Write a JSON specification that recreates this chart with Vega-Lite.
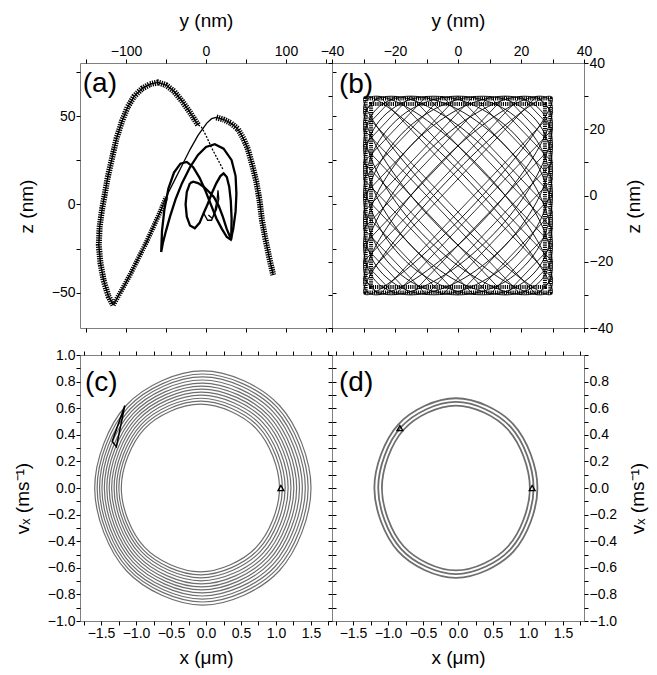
{
"$schema":"https://vega.github.io/schema/vega-lite/v6.json",
"padding":{"left":12,"top":10,"right":10,"bottom":8},
"config":{"font":"Liberation Sans","view":{"stroke":"#7f7f7f","strokeWidth":1},
"axis":{"grid":false,"domain":false,"tickColor":"#000","tickSize":4,"tickWidth":1,"labelFontSize":14,"labelColor":"#000","titleFontSize":19,"titleFontWeight":"normal","titleColor":"#000","labelPadding":1,"labelFont":"Liberation Sans","titleFont":"Liberation Sans","labelFlush":false,"labelOverlap":false}},
"datasets":{
"a_path":[
{"p":"thin","i":0,"y":21,"z":20},{"p":"thin","i":1,"y":14,"z":26},{"p":"thin","i":2,"y":7,"z":32},{"p":"thin","i":3,"y":0,"z":39},{"p":"thin","i":4,"y":-6,"z":44},{"p":"thin","i":5,"y":-10,"z":45},
{"p":"outer","i":0,"y":-10,"z":45},{"p":"outer","i":1,"y":-20,"z":52},{"p":"outer","i":2,"y":-30,"z":58.5},{"p":"outer","i":3,"y":-40,"z":64},{"p":"outer","i":4,"y":-50,"z":67.5},{"p":"outer","i":5,"y":-60,"z":69},{"p":"outer","i":6,"y":-70,"z":68},{"p":"outer","i":7,"y":-80,"z":65.5},{"p":"outer","i":8,"y":-90,"z":61},{"p":"outer","i":9,"y":-98,"z":55},{"p":"outer","i":10,"y":-105,"z":47},{"p":"outer","i":11,"y":-112,"z":37},{"p":"outer","i":12,"y":-118,"z":25},{"p":"outer","i":13,"y":-123,"z":15},{"p":"outer","i":14,"y":-126,"z":7},{"p":"outer","i":15,"y":-130,"z":-3},{"p":"outer","i":16,"y":-133,"z":-13},{"p":"outer","i":17,"y":-134,"z":-23},{"p":"outer","i":18,"y":-132,"z":-33},{"p":"outer","i":19,"y":-128,"z":-43},{"p":"outer","i":20,"y":-122,"z":-52},{"p":"outer","i":21,"y":-116,"z":-57},
{"p":"rise1","i":0,"y":-116,"z":-57},{"p":"rise1","i":1,"y":-106,"z":-49},{"p":"rise1","i":2,"y":-95,"z":-40},{"p":"rise1","i":3,"y":-84,"z":-30},{"p":"rise1","i":4,"y":-74,"z":-21},{"p":"rise1","i":5,"y":-65,"z":-12},{"p":"rise1","i":6,"y":-57,"z":-4},{"p":"rise1","i":7,"y":-50,"z":4},
{"p":"rise2","i":0,"y":-50,"z":4},{"p":"rise2","i":1,"y":-40,"z":13},{"p":"rise2","i":2,"y":-30,"z":22},{"p":"rise2","i":3,"y":-20,"z":31},{"p":"rise2","i":4,"y":-10,"z":39},{"p":"rise2","i":5,"y":1,"z":46},{"p":"rise2","i":6,"y":7,"z":48.5},{"p":"rise2","i":7,"y":13,"z":49.2},
{"p":"desc","i":0,"y":13,"z":49.2},{"p":"desc","i":1,"y":22,"z":48},{"p":"desc","i":2,"y":31,"z":46},{"p":"desc","i":3,"y":40,"z":42.6},{"p":"desc","i":4,"y":47,"z":37},{"p":"desc","i":5,"y":52.5,"z":31},{"p":"desc","i":6,"y":58,"z":22},{"p":"desc","i":7,"y":63,"z":12.5},{"p":"desc","i":8,"y":67,"z":2},{"p":"desc","i":9,"y":70,"z":-9},{"p":"desc","i":10,"y":74,"z":-19},{"p":"desc","i":11,"y":79,"z":-30},{"p":"desc","i":12,"y":84,"z":-40},
{"p":"P","i":0,"y":-56,"z":-27},{"p":"P","i":1,"y":-55,"z":-15},{"p":"P","i":2,"y":-52,"z":-3},{"p":"P","i":3,"y":-47,"z":9},{"p":"P","i":4,"y":-40,"z":18},{"p":"P","i":5,"y":-32,"z":23},{"p":"P","i":6,"y":-24,"z":24},{"p":"P","i":7,"y":-16,"z":21},{"p":"P","i":8,"y":-8,"z":15},{"p":"P","i":9,"y":-1,"z":8},{"p":"P","i":10,"y":6,"z":0},{"p":"P","i":11,"y":13,"z":-8},{"p":"P","i":12,"y":20,"z":-14},{"p":"P","i":13,"y":26,"z":-18.5},{"p":"P","i":14,"y":31,"z":-20},{"p":"P","i":15,"y":34,"z":-14},{"p":"P","i":16,"y":37,"z":-4},{"p":"P","i":17,"y":38,"z":6},{"p":"P","i":18,"y":37,"z":16},{"p":"P","i":19,"y":32,"z":25},{"p":"P","i":20,"y":22,"z":31.5},{"p":"P","i":21,"y":11,"z":34},{"p":"P","i":22,"y":0,"z":32.5},{"p":"P","i":23,"y":-10,"z":28},{"p":"P","i":24,"y":-20,"z":21},{"p":"P","i":25,"y":-30,"z":12},{"p":"P","i":26,"y":-38,"z":3},{"p":"P","i":27,"y":-45,"z":-7},{"p":"P","i":28,"y":-50,"z":-15},{"p":"P","i":29,"y":-54,"z":-22},{"p":"P","i":30,"y":-56,"z":-27},
{"p":"F","i":0,"y":-20,"z":12},{"p":"F","i":1,"y":-24,"z":7},{"p":"F","i":2,"y":-25.5,"z":0},{"p":"F","i":3,"y":-24,"z":-7},{"p":"F","i":4,"y":-20,"z":-12},{"p":"F","i":5,"y":-14,"z":-13.5},{"p":"F","i":6,"y":-8,"z":-10.5},{"p":"F","i":7,"y":-3,"z":-5},{"p":"F","i":8,"y":2,"z":0},{"p":"F","i":9,"y":7,"z":6},{"p":"F","i":10,"y":13,"z":12},{"p":"F","i":11,"y":18,"z":16},{"p":"F","i":12,"y":22,"z":17.5},{"p":"F","i":13,"y":26,"z":15.5},{"p":"F","i":14,"y":29,"z":10},{"p":"F","i":15,"y":31,"z":2},{"p":"F","i":16,"y":32,"z":-8},{"p":"F","i":17,"y":31.5,"z":-20},{"p":"F","i":18,"y":26,"z":-14},{"p":"F","i":19,"y":21,"z":-7},{"p":"F","i":20,"y":16,"z":-1},{"p":"F","i":21,"y":10,"z":4},{"p":"F","i":22,"y":4,"z":7},{"p":"F","i":23,"y":-3,"z":10},{"p":"F","i":24,"y":-10,"z":12},{"p":"F","i":25,"y":-16,"z":12.8},{"p":"F","i":26,"y":-20,"z":12},
{"p":"T","i":0,"y":-3,"z":-5},{"p":"T","i":1,"y":2,"z":-9},{"p":"T","i":2,"y":7,"z":-9},{"p":"T","i":3,"y":11,"z":-4},{"p":"T","i":4,"y":14,"z":3},{"p":"T","i":5,"y":15,"z":8},{"p":"T","i":6,"y":16,"z":3},{"p":"T","i":7,"y":13,"z":-3},{"p":"T","i":8,"y":8,"z":-8},{"p":"T","i":9,"y":3,"z":-6}
],
"b_rects":[
{"r":-25,"i":0,"y":-30,"z":-25},{"r":-25,"i":1,"y":25,"z":30},{"r":-25,"i":2,"y":30,"z":25},{"r":-25,"i":3,"y":-25,"z":-30},
{"r":-20,"i":0,"y":-30,"z":-20},{"r":-20,"i":1,"y":20,"z":30},{"r":-20,"i":2,"y":30,"z":20},{"r":-20,"i":3,"y":-20,"z":-30},
{"r":-15,"i":0,"y":-30,"z":-15},{"r":-15,"i":1,"y":15,"z":30},{"r":-15,"i":2,"y":30,"z":15},{"r":-15,"i":3,"y":-15,"z":-30},
{"r":-10,"i":0,"y":-30,"z":-10},{"r":-10,"i":1,"y":10,"z":30},{"r":-10,"i":2,"y":30,"z":10},{"r":-10,"i":3,"y":-10,"z":-30},
{"r":-5,"i":0,"y":-30,"z":-5},{"r":-5,"i":1,"y":5,"z":30},{"r":-5,"i":2,"y":30,"z":5},{"r":-5,"i":3,"y":-5,"z":-30},
{"r":0,"i":0,"y":-30,"z":0},{"r":0,"i":1,"y":0,"z":30},{"r":0,"i":2,"y":30,"z":0},{"r":0,"i":3,"y":0,"z":-30},
{"r":5,"i":0,"y":-30,"z":5},{"r":5,"i":1,"y":-5,"z":30},{"r":5,"i":2,"y":30,"z":-5},{"r":5,"i":3,"y":5,"z":-30},
{"r":10,"i":0,"y":-30,"z":10},{"r":10,"i":1,"y":-10,"z":30},{"r":10,"i":2,"y":30,"z":-10},{"r":10,"i":3,"y":10,"z":-30},
{"r":15,"i":0,"y":-30,"z":15},{"r":15,"i":1,"y":-15,"z":30},{"r":15,"i":2,"y":30,"z":-15},{"r":15,"i":3,"y":15,"z":-30},
{"r":20,"i":0,"y":-30,"z":20},{"r":20,"i":1,"y":-20,"z":30},{"r":20,"i":2,"y":30,"z":-20},{"r":20,"i":3,"y":20,"z":-30},
{"r":25,"i":0,"y":-30,"z":25},{"r":25,"i":1,"y":-25,"z":30},{"r":25,"i":2,"y":30,"z":-25},{"r":25,"i":3,"y":25,"z":-30}
],
"b_ell":[
{"e":15,"i":0,"y":0,"z":7.76},{"e":15,"i":1,"y":15,"z":21.2},{"e":15,"i":2,"y":26,"z":29},{"e":15,"i":3,"y":30,"z":29},{"e":15,"i":4,"y":26,"z":21.2},{"e":15,"i":5,"y":15,"z":7.76},{"e":15,"i":6,"y":0,"z":-7.76},{"e":15,"i":7,"y":-15,"z":-21.2},{"e":15,"i":8,"y":-26,"z":-29},{"e":15,"i":9,"y":-30,"z":-29},{"e":15,"i":10,"y":-26,"z":-21.2},{"e":15,"i":11,"y":-15,"z":-7.76},
{"e":30,"i":0,"y":0,"z":15},{"e":30,"i":1,"y":15,"z":26},{"e":30,"i":2,"y":26,"z":30},{"e":30,"i":3,"y":30,"z":26},{"e":30,"i":4,"y":26,"z":15},{"e":30,"i":5,"y":15,"z":0},{"e":30,"i":6,"y":0,"z":-15},{"e":30,"i":7,"y":-15,"z":-26},{"e":30,"i":8,"y":-26,"z":-30},{"e":30,"i":9,"y":-30,"z":-26},{"e":30,"i":10,"y":-26,"z":-15},{"e":30,"i":11,"y":-15,"z":0},
{"e":45,"i":0,"y":0,"z":21.2},{"e":45,"i":1,"y":15,"z":29},{"e":45,"i":2,"y":26,"z":29},{"e":45,"i":3,"y":30,"z":21.2},{"e":45,"i":4,"y":26,"z":7.76},{"e":45,"i":5,"y":15,"z":-7.76},{"e":45,"i":6,"y":0,"z":-21.2},{"e":45,"i":7,"y":-15,"z":-29},{"e":45,"i":8,"y":-26,"z":-29},{"e":45,"i":9,"y":-30,"z":-21.2},{"e":45,"i":10,"y":-26,"z":-7.76},{"e":45,"i":11,"y":-15,"z":7.76},
{"e":60,"i":0,"y":0,"z":26},{"e":60,"i":1,"y":15,"z":30},{"e":60,"i":2,"y":26,"z":26},{"e":60,"i":3,"y":30,"z":15},{"e":60,"i":4,"y":26,"z":0},{"e":60,"i":5,"y":15,"z":-15},{"e":60,"i":6,"y":0,"z":-26},{"e":60,"i":7,"y":-15,"z":-30},{"e":60,"i":8,"y":-26,"z":-26},{"e":60,"i":9,"y":-30,"z":-15},{"e":60,"i":10,"y":-26,"z":0},{"e":60,"i":11,"y":-15,"z":15},
{"e":75,"i":0,"y":0,"z":29},{"e":75,"i":1,"y":15,"z":29},{"e":75,"i":2,"y":26,"z":21.2},{"e":75,"i":3,"y":30,"z":7.76},{"e":75,"i":4,"y":26,"z":-7.76},{"e":75,"i":5,"y":15,"z":-21.2},{"e":75,"i":6,"y":0,"z":-29},{"e":75,"i":7,"y":-15,"z":-29},{"e":75,"i":8,"y":-26,"z":-21.2},{"e":75,"i":9,"y":-30,"z":-7.76},{"e":75,"i":10,"y":-26,"z":7.76},{"e":75,"i":11,"y":-15,"z":21.2},
{"e":90,"i":0,"y":0,"z":30},{"e":90,"i":1,"y":15,"z":26},{"e":90,"i":2,"y":26,"z":15},{"e":90,"i":3,"y":30,"z":0},{"e":90,"i":4,"y":26,"z":-15},{"e":90,"i":5,"y":15,"z":-26},{"e":90,"i":6,"y":0,"z":-30},{"e":90,"i":7,"y":-15,"z":-26},{"e":90,"i":8,"y":-26,"z":-15},{"e":90,"i":9,"y":-30,"z":0},{"e":90,"i":10,"y":-26,"z":15},{"e":90,"i":11,"y":-15,"z":26},
{"e":105,"i":0,"y":0,"z":29},{"e":105,"i":1,"y":15,"z":21.2},{"e":105,"i":2,"y":26,"z":7.76},{"e":105,"i":3,"y":30,"z":-7.76},{"e":105,"i":4,"y":26,"z":-21.2},{"e":105,"i":5,"y":15,"z":-29},{"e":105,"i":6,"y":0,"z":-29},{"e":105,"i":7,"y":-15,"z":-21.2},{"e":105,"i":8,"y":-26,"z":-7.76},{"e":105,"i":9,"y":-30,"z":7.76},{"e":105,"i":10,"y":-26,"z":21.2},{"e":105,"i":11,"y":-15,"z":29},
{"e":120,"i":0,"y":0,"z":26},{"e":120,"i":1,"y":15,"z":15},{"e":120,"i":2,"y":26,"z":0},{"e":120,"i":3,"y":30,"z":-15},{"e":120,"i":4,"y":26,"z":-26},{"e":120,"i":5,"y":15,"z":-30},{"e":120,"i":6,"y":0,"z":-26},{"e":120,"i":7,"y":-15,"z":-15},{"e":120,"i":8,"y":-26,"z":0},{"e":120,"i":9,"y":-30,"z":15},{"e":120,"i":10,"y":-26,"z":26},{"e":120,"i":11,"y":-15,"z":30},
{"e":135,"i":0,"y":0,"z":21.2},{"e":135,"i":1,"y":15,"z":7.76},{"e":135,"i":2,"y":26,"z":-7.76},{"e":135,"i":3,"y":30,"z":-21.2},{"e":135,"i":4,"y":26,"z":-29},{"e":135,"i":5,"y":15,"z":-29},{"e":135,"i":6,"y":0,"z":-21.2},{"e":135,"i":7,"y":-15,"z":-7.76},{"e":135,"i":8,"y":-26,"z":7.76},{"e":135,"i":9,"y":-30,"z":21.2},{"e":135,"i":10,"y":-26,"z":29},{"e":135,"i":11,"y":-15,"z":29},
{"e":150,"i":0,"y":0,"z":15},{"e":150,"i":1,"y":15,"z":0},{"e":150,"i":2,"y":26,"z":-15},{"e":150,"i":3,"y":30,"z":-26},{"e":150,"i":4,"y":26,"z":-30},{"e":150,"i":5,"y":15,"z":-26},{"e":150,"i":6,"y":0,"z":-15},{"e":150,"i":7,"y":-15,"z":0},{"e":150,"i":8,"y":-26,"z":15},{"e":150,"i":9,"y":-30,"z":26},{"e":150,"i":10,"y":-26,"z":30},{"e":150,"i":11,"y":-15,"z":26},
{"e":165,"i":0,"y":0,"z":7.76},{"e":165,"i":1,"y":15,"z":-7.76},{"e":165,"i":2,"y":26,"z":-21.2},{"e":165,"i":3,"y":30,"z":-29},{"e":165,"i":4,"y":26,"z":-29},{"e":165,"i":5,"y":15,"z":-21.2},{"e":165,"i":6,"y":0,"z":-7.76},{"e":165,"i":7,"y":-15,"z":7.76},{"e":165,"i":8,"y":-26,"z":21.2},{"e":165,"i":9,"y":-30,"z":29},{"e":165,"i":10,"y":-26,"z":29},{"e":165,"i":11,"y":-15,"z":21.2}
],
"b_frame":[
{"f":1,"i":0,"y":-29.3,"z":-29.3},{"f":1,"i":1,"y":-29.3,"z":29.3},{"f":1,"i":2,"y":29.3,"z":29.3},{"f":1,"i":3,"y":29.3,"z":-29.3},
{"f":2,"i":0,"y":-27.6,"z":-27.6},{"f":2,"i":1,"y":-27.6,"z":27.6},{"f":2,"i":2,"y":27.6,"z":27.6},{"f":2,"i":3,"y":27.6,"z":-27.6}
],
"c_rings":[
{"r":0,"i":0,"x":1.050,"v":0},{"r":0,"i":1,"x":0.719,"v":0.445},{"r":0,"i":2,"x":-0.080,"v":0.630},{"r":0,"i":3,"x":-0.879,"v":0.445},{"r":0,"i":4,"x":-1.210,"v":0},{"r":0,"i":5,"x":-0.879,"v":-0.445},{"r":0,"i":6,"x":-0.080,"v":-0.630},{"r":0,"i":7,"x":0.719,"v":-0.445},
{"r":1,"i":0,"x":1.091,"v":0},{"r":1,"i":1,"x":0.749,"v":0.462},{"r":1,"i":2,"x":-0.077,"v":0.653},{"r":1,"i":3,"x":-0.903,"v":0.462},{"r":1,"i":4,"x":-1.245,"v":0},{"r":1,"i":5,"x":-0.903,"v":-0.462},{"r":1,"i":6,"x":-0.077,"v":-0.653},{"r":1,"i":7,"x":0.749,"v":-0.462},
{"r":2,"i":0,"x":1.131,"v":0},{"r":2,"i":1,"x":0.778,"v":0.477},{"r":2,"i":2,"x":-0.074,"v":0.675},{"r":2,"i":3,"x":-0.926,"v":0.477},{"r":2,"i":4,"x":-1.279,"v":0},{"r":2,"i":5,"x":-0.926,"v":-0.477},{"r":2,"i":6,"x":-0.074,"v":-0.675},{"r":2,"i":7,"x":0.778,"v":-0.477},
{"r":3,"i":0,"x":1.173,"v":0},{"r":3,"i":1,"x":0.809,"v":0.494},{"r":3,"i":2,"x":-0.070,"v":0.698},{"r":3,"i":3,"x":-0.949,"v":0.494},{"r":3,"i":4,"x":-1.313,"v":0},{"r":3,"i":5,"x":-0.949,"v":-0.494},{"r":3,"i":6,"x":-0.070,"v":-0.698},{"r":3,"i":7,"x":0.809,"v":-0.494},
{"r":4,"i":0,"x":1.214,"v":0},{"r":4,"i":1,"x":0.839,"v":0.510},{"r":4,"i":2,"x":-0.067,"v":0.721},{"r":4,"i":3,"x":-0.973,"v":0.510},{"r":4,"i":4,"x":-1.348,"v":0},{"r":4,"i":5,"x":-0.973,"v":-0.510},{"r":4,"i":6,"x":-0.067,"v":-0.721},{"r":4,"i":7,"x":0.839,"v":-0.510},
{"r":5,"i":0,"x":1.255,"v":0},{"r":5,"i":1,"x":0.869,"v":0.526},{"r":5,"i":2,"x":-0.064,"v":0.744},{"r":5,"i":3,"x":-0.997,"v":0.526},{"r":5,"i":4,"x":-1.383,"v":0},{"r":5,"i":5,"x":-0.997,"v":-0.526},{"r":5,"i":6,"x":-0.064,"v":-0.744},{"r":5,"i":7,"x":0.869,"v":-0.526},
{"r":6,"i":0,"x":1.295,"v":0},{"r":6,"i":1,"x":0.898,"v":0.542},{"r":6,"i":2,"x":-0.061,"v":0.766},{"r":6,"i":3,"x":-1.020,"v":0.542},{"r":6,"i":4,"x":-1.417,"v":0},{"r":6,"i":5,"x":-1.020,"v":-0.542},{"r":6,"i":6,"x":-0.061,"v":-0.766},{"r":6,"i":7,"x":0.898,"v":-0.542},
{"r":7,"i":0,"x":1.336,"v":0},{"r":7,"i":1,"x":0.928,"v":0.558},{"r":7,"i":2,"x":-0.058,"v":0.789},{"r":7,"i":3,"x":-1.044,"v":0.558},{"r":7,"i":4,"x":-1.452,"v":0},{"r":7,"i":5,"x":-1.044,"v":-0.558},{"r":7,"i":6,"x":-0.058,"v":-0.789},{"r":7,"i":7,"x":0.928,"v":-0.558},
{"r":8,"i":0,"x":1.377,"v":0},{"r":8,"i":1,"x":0.958,"v":0.574},{"r":8,"i":2,"x":-0.055,"v":0.812},{"r":8,"i":3,"x":-1.068,"v":0.574},{"r":8,"i":4,"x":-1.487,"v":0},{"r":8,"i":5,"x":-1.068,"v":-0.574},{"r":8,"i":6,"x":-0.055,"v":-0.812},{"r":8,"i":7,"x":0.958,"v":-0.574},
{"r":9,"i":0,"x":1.419,"v":0},{"r":9,"i":1,"x":0.988,"v":0.590},{"r":9,"i":2,"x":-0.051,"v":0.835},{"r":9,"i":3,"x":-1.090,"v":0.590},{"r":9,"i":4,"x":-1.521,"v":0},{"r":9,"i":5,"x":-1.090,"v":-0.590},{"r":9,"i":6,"x":-0.051,"v":-0.835},{"r":9,"i":7,"x":0.988,"v":-0.590},
{"r":10,"i":0,"x":1.459,"v":0},{"r":10,"i":1,"x":1.018,"v":0.606},{"r":10,"i":2,"x":-0.048,"v":0.857},{"r":10,"i":3,"x":-1.114,"v":0.606},{"r":10,"i":4,"x":-1.555,"v":0},{"r":10,"i":5,"x":-1.114,"v":-0.606},{"r":10,"i":6,"x":-0.048,"v":-0.857},{"r":10,"i":7,"x":1.018,"v":-0.606},
{"r":11,"i":0,"x":1.500,"v":0},{"r":11,"i":1,"x":1.047,"v":0.622},{"r":11,"i":2,"x":-0.045,"v":0.880},{"r":11,"i":3,"x":-1.137,"v":0.622},{"r":11,"i":4,"x":-1.590,"v":0},{"r":11,"i":5,"x":-1.137,"v":-0.622},{"r":11,"i":6,"x":-0.045,"v":-0.880},{"r":11,"i":7,"x":1.047,"v":-0.622}
],
"c_tri":[{"i":0,"x":-1.16,"v":0.62},{"i":1,"x":-1.34,"v":0.35},{"i":2,"x":-1.28,"v":0.31},{"i":3,"x":-1.16,"v":0.62}],
"c_pts":[{"x":1.07,"v":0.0}],
"d_rings":[
{"r":0,"i":0,"x":1.027,"v":0},{"r":0,"i":1,"x":0.717,"v":0.438},{"r":0,"i":2,"x":-0.03,"v":0.620},{"r":0,"i":3,"x":-0.777,"v":0.438},{"r":0,"i":4,"x":-1.087,"v":0},{"r":0,"i":5,"x":-0.777,"v":-0.438},{"r":0,"i":6,"x":-0.03,"v":-0.620},{"r":0,"i":7,"x":0.717,"v":-0.438},
{"r":1,"i":0,"x":1.080,"v":0},{"r":1,"i":1,"x":0.755,"v":0.457},{"r":1,"i":2,"x":-0.03,"v":0.647},{"r":1,"i":3,"x":-0.815,"v":0.457},{"r":1,"i":4,"x":-1.140,"v":0},{"r":1,"i":5,"x":-0.815,"v":-0.457},{"r":1,"i":6,"x":-0.03,"v":-0.647},{"r":1,"i":7,"x":0.755,"v":-0.457},
{"r":2,"i":0,"x":1.135,"v":0},{"r":2,"i":1,"x":0.794,"v":0.477},{"r":2,"i":2,"x":-0.03,"v":0.675},{"r":2,"i":3,"x":-0.854,"v":0.477},{"r":2,"i":4,"x":-1.195,"v":0},{"r":2,"i":5,"x":-0.854,"v":-0.477},{"r":2,"i":6,"x":-0.03,"v":-0.675},{"r":2,"i":7,"x":0.794,"v":-0.477}
],
"d_pts":[{"x":1.06,"v":0.0},{"x":-0.83,"v":0.45}],
"labels":[{"panel":"a","t":"(a)","px":-154,"py":76},{"panel":"b","t":"(b)","px":-37.8,"py":37.6},{"panel":"c","t":"(c)","px":-1.73,"py":0.895},{"panel":"d","t":"(d)","px":-1.70,"py":0.895}]
},
"columns":2,
"spacing":{"row":27,"column":0},
"bounds":"flush",
"concat":[
{"width":252,"height":265,"resolve":{"axis":{"x":"independent","y":"independent"}},
"layer":[
{"data":{"name":"a_path"},"transform":[{"filter":{"field":"p","oneOf":["outer","desc"]}}],
"mark":{"type":"line","strokeWidth":6,"strokeDash":[1.3,1],"color":"#000","strokeCap":"butt"},
"encoding":{
"x":{"field":"y","type":"quantitative","scale":{"domain":[-157.5,157.5],"nice":false,"zero":false},"axis":{"orient":"top","title":"y (nm)","titlePadding":14,"values":[-150,-100,-50,0,50,100,150],"labelExpr":"datum.value % 100 == 0 ? datum.label : ''"}},
"y":{"field":"z","type":"quantitative","scale":{"domain":[-70,80],"nice":false,"zero":false},"axis":{"orient":"left","title":"z (nm)","titlePadding":15,"titleY":143,"values":[-50,-25,0,25,50,75],"labelExpr":"datum.value % 50 == 0 ? datum.label : ''"}},
"detail":{"field":"p"},"order":{"field":"i","type":"quantitative"}}},
{"data":{"name":"a_path"},"transform":[{"filter":{"field":"p","oneOf":["rise1"]}}],
"mark":{"type":"line","strokeWidth":5,"strokeDash":[1.3,1],"color":"#000","strokeCap":"butt"},
"encoding":{
"x":{"field":"y","type":"quantitative","scale":{"domain":[-157.5,157.5],"nice":false,"zero":false},"axis":null},
"y":{"field":"z","type":"quantitative","scale":{"domain":[-70,80],"nice":false,"zero":false},"axis":null},
"detail":{"field":"p"},"order":{"field":"i","type":"quantitative"}}},
{"data":{"name":"a_path"},"transform":[{"filter":{"field":"p","oneOf":["outer","desc","rise1","rise2","T"]}}],
"mark":{"type":"line","strokeWidth":1.3,"color":"#000"},
"encoding":{
"x":{"field":"y","type":"quantitative","scale":{"domain":[-157.5,157.5],"nice":false,"zero":false},"axis":{"orient":"bottom","labels":false,"title":null,"values":[-150,-100,-50,0,50,100,150]}},
"y":{"field":"z","type":"quantitative","scale":{"domain":[-70,80],"nice":false,"zero":false},"axis":{"orient":"right","labels":false,"title":null,"values":[-50,-25,0,25,50,75]}},
"detail":{"field":"p"},"order":{"field":"i","type":"quantitative"}}},
{"data":{"name":"a_path"},"transform":[{"filter":{"field":"p","oneOf":["P","F"]}}],
"mark":{"type":"line","strokeWidth":2.3,"color":"#000"},
"encoding":{
"x":{"field":"y","type":"quantitative","scale":{"domain":[-157.5,157.5],"nice":false,"zero":false},"axis":null},
"y":{"field":"z","type":"quantitative","scale":{"domain":[-70,80],"nice":false,"zero":false},"axis":null},
"detail":{"field":"p"},"order":{"field":"i","type":"quantitative"}}},
{"data":{"name":"a_path"},"transform":[{"filter":{"field":"p","oneOf":["thin"]}}],
"mark":{"type":"line","strokeWidth":1.3,"strokeDash":[2,1.5],"color":"#000"},
"encoding":{
"x":{"field":"y","type":"quantitative","scale":{"domain":[-157.5,157.5],"nice":false,"zero":false},"axis":null},
"y":{"field":"z","type":"quantitative","scale":{"domain":[-70,80],"nice":false,"zero":false},"axis":null},
"detail":{"field":"p"},"order":{"field":"i","type":"quantitative"}}},
{"data":{"name":"labels"},"transform":[{"filter":"datum.panel == 'a'"}],
"mark":{"type":"text","fontSize":28,"align":"left","baseline":"top","color":"#000","font":"Liberation Sans"},
"encoding":{
"x":{"field":"px","type":"quantitative","scale":{"domain":[-157.5,157.5],"nice":false,"zero":false},"axis":null},
"y":{"field":"py","type":"quantitative","scale":{"domain":[-70,80],"nice":false,"zero":false},"axis":null},
"text":{"field":"t"}}}
]},
{"width":252,"height":265,"resolve":{"axis":{"x":"independent","y":"independent"}},
"layer":[
{"data":{"name":"b_rects"},
"mark":{"type":"line","interpolate":"linear-closed","strokeWidth":0.8,"color":"#000"},
"encoding":{
"x":{"field":"y","type":"quantitative","scale":{"domain":[-40,40],"nice":false,"zero":false},"axis":{"orient":"top","title":"y (nm)","titlePadding":14,"values":[-40,-30,-20,-10,0,10,20,30,40],"labelExpr":"datum.value % 20 == 0 ? datum.label : ''"}},
"y":{"field":"z","type":"quantitative","scale":{"domain":[-40,40],"nice":false,"zero":false},"axis":{"orient":"right","title":"z (nm)","titleAngle":270,"titleBaseline":"top","titlePadding":12,"titleY":143,"values":[-40,-30,-20,-10,0,10,20,30,40],"labelExpr":"datum.value % 20 == 0 ? datum.label : ''"}},
"detail":{"field":"r"},"order":{"field":"i","type":"quantitative"}}},
{"data":{"name":"b_ell"},
"mark":{"type":"line","interpolate":"cardinal-closed","tension":0,"strokeWidth":0.9,"color":"#000"},
"encoding":{
"x":{"field":"y","type":"quantitative","scale":{"domain":[-40,40],"nice":false,"zero":false},"axis":null},
"y":{"field":"z","type":"quantitative","scale":{"domain":[-40,40],"nice":false,"zero":false},"axis":null},
"detail":{"field":"e"},"order":{"field":"i","type":"quantitative"}}},
{"data":{"name":"b_frame"},
"mark":{"type":"line","interpolate":"linear-closed","strokeWidth":4,"strokeDash":[1.2,1],"color":"#000","strokeCap":"butt"},
"encoding":{
"x":{"field":"y","type":"quantitative","scale":{"domain":[-40,40],"nice":false,"zero":false},"axis":{"orient":"bottom","labels":false,"title":null,"values":[-40,-30,-20,-10,0,10,20,30,40]}},
"y":{"field":"z","type":"quantitative","scale":{"domain":[-40,40],"nice":false,"zero":false},"axis":{"orient":"left","labels":false,"title":null,"values":[-40,-30,-20,-10,0,10,20,30,40]}},
"detail":{"field":"f"},"order":{"field":"i","type":"quantitative"}}},
{"data":{"name":"labels"},"transform":[{"filter":"datum.panel == 'b'"}],
"mark":{"type":"text","fontSize":28,"align":"left","baseline":"top","color":"#000","font":"Liberation Sans"},
"encoding":{
"x":{"field":"px","type":"quantitative","scale":{"domain":[-40,40],"nice":false,"zero":false},"axis":null},
"y":{"field":"py","type":"quantitative","scale":{"domain":[-40,40],"nice":false,"zero":false},"axis":null},
"text":{"field":"t"}}}
]},
{"width":252,"height":266,"resolve":{"axis":{"x":"independent","y":"independent"}},
"layer":[
{"data":{"name":"c_rings"},
"mark":{"type":"line","interpolate":"cardinal-closed","tension":0,"strokeWidth":1.2,"color":"#6e6e6e"},
"encoding":{
"x":{"field":"x","type":"quantitative","scale":{"domain":[-1.8,1.8],"nice":false,"zero":false},"axis":{"orient":"bottom","title":"x (μm)","titlePadding":8,"values":[-1.75,-1.5,-1.25,-1,-0.75,-0.5,-0.25,0,0.25,0.5,0.75,1,1.25,1.5,1.75],"labelExpr":"abs(datum.value*2 - round(datum.value*2)) < 0.001 ? format(datum.value, '.1f') : ''"}},
"y":{"field":"v","type":"quantitative","scale":{"domain":[-1,1],"nice":false,"zero":false},"axis":{"orient":"left","title":"vₓ (ms⁻¹)","titlePadding":15,"titleY":143,"values":[-1,-0.9,-0.8,-0.7,-0.6,-0.5,-0.4,-0.3,-0.2,-0.1,0,0.1,0.2,0.3,0.4,0.5,0.6,0.7,0.8,0.9,1],"labelExpr":"abs(datum.value*5 - round(datum.value*5)) < 0.001 ? format(datum.value, '.1f') : ''"}},
"detail":{"field":"r"},"order":{"field":"i","type":"quantitative"}}},
{"data":{"name":"c_tri"},
"mark":{"type":"line","strokeWidth":1.5,"color":"#000"},
"encoding":{
"x":{"field":"x","type":"quantitative","scale":{"domain":[-1.8,1.8],"nice":false,"zero":false},"axis":{"orient":"top","labels":false,"title":null,"values":[-1.75,-1.5,-1.25,-1,-0.75,-0.5,-0.25,0,0.25,0.5,0.75,1,1.25,1.5,1.75]}},
"y":{"field":"v","type":"quantitative","scale":{"domain":[-1,1],"nice":false,"zero":false},"axis":{"orient":"right","labels":false,"title":null,"values":[-1,-0.9,-0.8,-0.7,-0.6,-0.5,-0.4,-0.3,-0.2,-0.1,0,0.1,0.2,0.3,0.4,0.5,0.6,0.7,0.8,0.9,1]}},
"order":{"field":"i","type":"quantitative"}}},
{"data":{"name":"c_pts"},
"mark":{"type":"point","shape":"triangle-up","size":35,"filled":false,"color":"#000","strokeWidth":1.3,"opacity":1},
"encoding":{
"x":{"field":"x","type":"quantitative","scale":{"domain":[-1.8,1.8],"nice":false,"zero":false},"axis":null},
"y":{"field":"v","type":"quantitative","scale":{"domain":[-1,1],"nice":false,"zero":false},"axis":null}}},
{"data":{"name":"labels"},"transform":[{"filter":"datum.panel == 'c'"}],
"mark":{"type":"text","fontSize":28,"align":"left","baseline":"top","color":"#000","font":"Liberation Sans"},
"encoding":{
"x":{"field":"px","type":"quantitative","scale":{"domain":[-1.8,1.8],"nice":false,"zero":false},"axis":null},
"y":{"field":"py","type":"quantitative","scale":{"domain":[-1,1],"nice":false,"zero":false},"axis":null},
"text":{"field":"t"}}}
]},
{"width":252,"height":266,"resolve":{"axis":{"x":"independent","y":"independent"}},
"layer":[
{"data":{"name":"d_rings"},
"mark":{"type":"line","interpolate":"cardinal-closed","tension":0,"strokeWidth":1.8,"color":"#6e6e6e"},
"encoding":{
"x":{"field":"x","type":"quantitative","scale":{"domain":[-1.8,1.8],"nice":false,"zero":false},"axis":{"orient":"bottom","title":"x (μm)","titlePadding":8,"values":[-1.75,-1.5,-1.25,-1,-0.75,-0.5,-0.25,0,0.25,0.5,0.75,1,1.25,1.5,1.75],"labelExpr":"abs(datum.value*2 - round(datum.value*2)) < 0.001 ? format(datum.value, '.1f') : ''"}},
"y":{"field":"v","type":"quantitative","scale":{"domain":[-1,1],"nice":false,"zero":false},"axis":{"orient":"right","title":"vₓ (ms⁻¹)","titleAngle":270,"titleBaseline":"top","titlePadding":12,"titleY":143,"values":[-1,-0.9,-0.8,-0.7,-0.6,-0.5,-0.4,-0.3,-0.2,-0.1,0,0.1,0.2,0.3,0.4,0.5,0.6,0.7,0.8,0.9,1],"labelExpr":"abs(datum.value*5 - round(datum.value*5)) < 0.001 && datum.value < 0.95 ? format(datum.value, '.1f') : ''"}},
"detail":{"field":"r"},"order":{"field":"i","type":"quantitative"}}},
{"data":{"name":"d_pts"},
"mark":{"type":"point","shape":"triangle-up","size":35,"filled":false,"color":"#000","strokeWidth":1.3,"opacity":1},
"encoding":{
"x":{"field":"x","type":"quantitative","scale":{"domain":[-1.8,1.8],"nice":false,"zero":false},"axis":{"orient":"top","labels":false,"title":null,"values":[-1.75,-1.5,-1.25,-1,-0.75,-0.5,-0.25,0,0.25,0.5,0.75,1,1.25,1.5,1.75]}},
"y":{"field":"v","type":"quantitative","scale":{"domain":[-1,1],"nice":false,"zero":false},"axis":{"orient":"left","labels":false,"title":null,"values":[-1,-0.9,-0.8,-0.7,-0.6,-0.5,-0.4,-0.3,-0.2,-0.1,0,0.1,0.2,0.3,0.4,0.5,0.6,0.7,0.8,0.9,1]}}}},
{"data":{"name":"labels"},"transform":[{"filter":"datum.panel == 'd'"}],
"mark":{"type":"text","fontSize":28,"align":"left","baseline":"top","color":"#000","font":"Liberation Sans"},
"encoding":{
"x":{"field":"px","type":"quantitative","scale":{"domain":[-1.8,1.8],"nice":false,"zero":false},"axis":null},
"y":{"field":"py","type":"quantitative","scale":{"domain":[-1,1],"nice":false,"zero":false},"axis":null},
"text":{"field":"t"}}}
]}
]
}
